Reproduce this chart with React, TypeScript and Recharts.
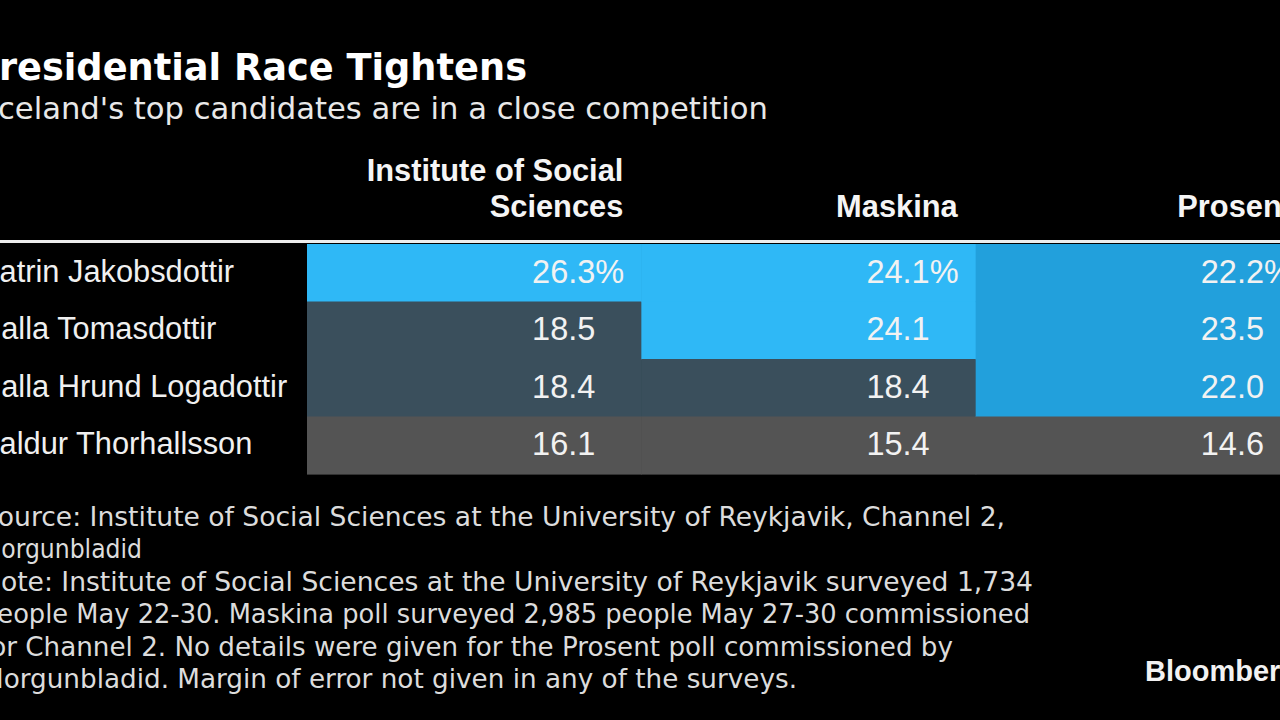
import React from 'react';
import { ScatterChart, Scatter, XAxis, YAxis } from 'recharts';

// ---- data ----
const polls = ['Institute of Social Sciences', 'Maskina', 'Prosent'];
const pollHeaderLines = [['Institute of Social', 'Sciences'], ['Maskina'], ['Prosent']];
const candidates = ['Katrin Jakobsdottir', 'Halla Tomasdottir', 'Halla Hrund Logadottir', 'Baldur Thorhallsson'];
const instituteValues = [26.3, 18.5, 18.4, 16.1];
const maskinaValues = [24.1, 24.1, 18.4, 15.4];
const prosentValues = [22.2, 23.5, 22.0, 14.6];
const instituteTiers = ['lead', 'mid', 'mid', 'low'];
const maskinaTiers = ['lead', 'lead', 'mid', 'low'];
const prosentTiers = ['tie', 'tie', 'tie', 'low'];

const title = 'Presidential Race Tightens';
const subtitle = "Iceland's top candidates are in a close competition";
const footnoteLines = [
  'Source: Institute of Social Sciences at the University of Reykjavik, Channel 2,',
  'Morgunbladid',
  'Note: Institute of Social Sciences at the University of Reykjavik surveyed 1,734',
  'people May 22-30. Maskina poll surveyed 2,985 people May 27-30 commissioned',
  'for Channel 2. No details were given for the Prosent poll commissioned by',
  'Morgunbladid. Margin of error not given in any of the surveys.',
];

// ---- styles ----
const tierColors: Record<string, string> = {
  lead: '#2FB8F6',
  tie: '#22A0DC',
  mid: '#3A4F5C',
  low: '#545454',
};

const valuesByPoll = [instituteValues, maskinaValues, prosentValues];
const tiersByPoll = [instituteTiers, maskinaTiers, prosentTiers];

const cells = polls.flatMap((p, pi) =>
  candidates.map((c, ci) => ({
    poll: p,
    name: c,
    value: valuesByPoll[pi][ci],
    tier: tiersByPoll[pi][ci],
    first: ci === 0,
  }))
);

const OFF = 40; // chart shifted left so that labels can be cut at the page edge
const CHART_W = 1310 + OFF;
const CHART_H = 720;
const Y_AXIS_W = 307 + OFF;
const PLOT_TOP = 244;
const PLOT_BOTTOM = 474;
const COL_W = (CHART_W - Y_AXIS_W) / polls.length;
const ROW_H = (PLOT_BOTTOM - PLOT_TOP) / candidates.length;

const tableFont = "'Liberation Sans', Arial, Helvetica, sans-serif";
const textFont = "'DejaVu Sans Condensed', 'DejaVu Sans', Verdana, sans-serif";

const CellShape = (props: any) => {
  const { cx, cy, payload } = props;
  if (cx == null || cy == null) return null;
  const x0 = cx - COL_W / 2;
  const y0 = cy - ROW_H / 2;
  const numX = x0 + COL_W - 46;
  const value = payload.value.toFixed(1);
  return (
    <g>
      <rect x={x0} y={y0} width={COL_W + 0.6} height={ROW_H + 0.6} fill={tierColors[payload.tier]} />
      <text x={numX} y={cy + 10} textAnchor="end" fontFamily={tableFont} fontSize={32.5} fill="#F2F2F2">
        {value}
      </text>
      {payload.first ? (
        <text x={numX} y={cy + 10} textAnchor="start" fontFamily={tableFont} fontSize={32.5} fill="#F2F2F2">
          %
        </text>
      ) : null}
    </g>
  );
};

const NameTick = (props: any) => {
  const { y, payload } = props;
  return (
    <text x={OFF - 21} y={y + 9} textAnchor="start" fontFamily={tableFont} fontSize={30.8} fill="#F0F0F0">
      {payload.value}
    </text>
  );
};

const HeaderTick = (props: any) => {
  const { x, index } = props;
  const lines = pollHeaderLines[index] || [];
  const right = x + COL_W / 2 - 18;
  const lastBaseline = PLOT_TOP - 27;
  return (
    <g>
      {lines.map((l, i) => (
        <text
          key={i}
          x={right}
          y={lastBaseline - (lines.length - 1 - i) * 36}
          textAnchor="end"
          fontFamily={tableFont}
          fontWeight="bold"
          fontSize={30.8}
          fill="#F5F5F5"
        >
          {l}
        </text>
      ))}
    </g>
  );
};

const footVisibleEnds = [1005, 142, 1033, 1030, 953, 797];
const FOOT_X = -19;

export default function App() {
  return (
    <div style={{ position: 'fixed', left: 0, top: 0, width: 1280, height: 720, background: '#000', overflow: 'hidden' }}>
      <div style={{ position: 'absolute', left: -OFF, top: 0 }}>
        <ScatterChart
          width={CHART_W}
          height={CHART_H}
          margin={{ top: PLOT_TOP - 100, right: 0, bottom: CHART_H - PLOT_BOTTOM, left: 0 }}
        >
          <XAxis
            type="category"
            dataKey="poll"
            orientation="top"
            height={100}
            allowDuplicatedCategory={false}
            axisLine={false}
            tickLine={false}
            tick={<HeaderTick />}
            interval={0}
          />
          <YAxis
            type="category"
            dataKey="name"
            width={Y_AXIS_W}
            allowDuplicatedCategory={false}
            reversed
            axisLine={false}
            tickLine={false}
            tick={<NameTick />}
            interval={0}
          />
          <Scatter data={cells} shape={<CellShape />} isAnimationActive={false} />
        </ScatterChart>
      </div>
      <svg width={1280} height={720} style={{ position: 'absolute', left: 0, top: 0, pointerEvents: 'none' }}>
        <line x1={0} x2={1280} y1={241.5} y2={241.5} stroke="#EDEDED" strokeWidth={3} />
        <text
          x={-28}
          y={80}
          fontFamily={textFont}
          fontWeight="bold"
          fontSize={38}
          fill="#FFFFFF"
          textLength={555}
          lengthAdjust="spacingAndGlyphs"
        >
          {title}
        </text>
        <text
          x={-11}
          y={119}
          fontFamily={textFont}
          fontSize={31}
          fill="#E8E8E8"
          textLength={779}
          lengthAdjust="spacingAndGlyphs"
        >
          {subtitle}
        </text>
        {footnoteLines.map((l, i) => (
          <text
            key={i}
            x={FOOT_X}
            y={526 + i * 32.4}
            fontFamily={textFont}
            fontSize={27}
            fill="#DCDCDC"
            textLength={footVisibleEnds[i] - FOOT_X}
            lengthAdjust="spacingAndGlyphs"
          >
            {l}
          </text>
        ))}
        <text x={1145} y={681} fontFamily={tableFont} fontWeight="bold" fontSize={29} fill="#F2F2F2">
          Bloomberg
        </text>
      </svg>
    </div>
  );
}
